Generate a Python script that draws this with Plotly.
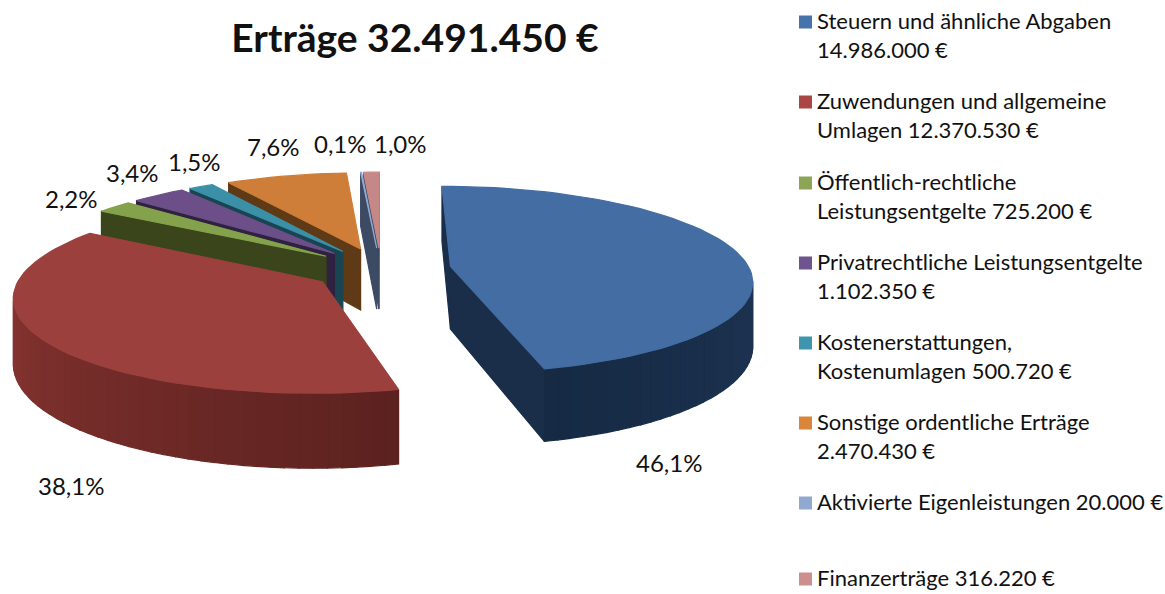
import math
import plotly.graph_objects as go

TITLE = "Erträge 32.491.450 €"
categories = [
    "Steuern und ähnliche Abgaben<br>14.986.000 €",
    "Zuwendungen und allgemeine<br>Umlagen 12.370.530 €",
    "Öffentlich-rechtliche<br>Leistungsentgelte 725.200 €",
    "Privatrechtliche Leistungsentgelte<br>1.102.350 €",
    "Kostenerstattungen,<br>Kostenumlagen 500.720 €",
    "Sonstige ordentliche Erträge<br>2.470.430 €",
    "Aktivierte Eigenleistungen 20.000 €",
    "Finanzerträge 316.220 €",
]
amounts = [14986000, 12370530, 725200, 1102350, 500720, 2470430, 20000, 316220]

legend_colors = ["#4673AA", "#AA4644", "#8CA555", "#6F5590", "#3F95AD", "#D9853B", "#92A9CF", "#CC8F8D"]
top_colors = ["#436DA3", "#9C403E", "#84A24B", "#6C4F88", "#3B90A8", "#CE7E38", "#8FA9D0", "#C58886"]
face_colors = ["#1A2E4A", "#5F2421", "#3A451C", "#2F2140", "#194553", "#5F3A16", "#3C4A63", "#3C4A63"]
wall_start = [(38, 66, 102), (92, 34, 31), (58, 69, 28), (47, 33, 64), (25, 69, 83), (95, 58, 22), (60, 74, 99), (60, 74, 99)]
wall_end = [(22, 42, 68), (152, 60, 56), (58, 69, 28), (47, 33, 64), (25, 69, 83), (95, 58, 22), (60, 74, 99), (60, 74, 99)]
label_x = [669, 71, 71, 132, 194, 273, 340, 400]
label_y = [462, 485, 198, 172, 161, 146, 143, 143]
legend_y = [22, 102, 183, 263, 343, 423, 503, 579]

# Camera / pie geometry, in page pixels
CX, CY = 381, 269
RX, RY = 299, 92
PULL = 0.235
PERSP = 0.14
DEPTH = 63
LEGEND_SWATCH_X, LEGEND_TEXT_X = 805.5, 817
draw_order = [7, 6, 5, 4, 3, 2, 0, 1]


def project(gx, gy, z=0.0):
    s = 1 / (1 + PERSP * gy)
    return CX + RX * gx * s, CY - RY * gy * s + z * DEPTH * s


def polygon(points, color):
    xs = [p[0] for p in points] + [points[0][0]]
    ys = [p[1] for p in points] + [points[0][1]]
    return go.Scatter(x=xs, y=ys, mode="lines", fill="toself", fillcolor=color,
                      line=dict(color=color, width=1.2), hoverinfo="skip", showlegend=False)


def is_front(a, b, m):
    """True when the wedge's middle point m lies above the edge a-b on the page."""
    dx, dy = b[0] - a[0], b[1] - a[1]
    if abs(dx) < 1e-6:
        dx = 1e-6
    return m[1] < a[1] + dy * (m[0] - a[0]) / dx


fig = go.Figure()

total = sum(amounts)
bounds = [0.0]
for v in amounts:
    bounds.append(bounds[-1] + v / total * 2 * math.pi)

for i in draw_order:
    t0, t1 = bounds[i], bounds[i + 1]
    mid = (t0 + t1) / 2
    ox, oy = PULL * math.sin(mid), PULL * math.cos(mid)
    n = max(3, int((t1 - t0) / 0.04))
    ang = [t0 + (t1 - t0) * k / n for k in range(n + 1)]
    rim = [(ox + math.sin(a), oy + math.cos(a)) for a in ang]
    apex2 = project(ox, oy)
    rim2 = [project(*g) for g in rim]
    midpt = project(ox + 0.6 * math.sin(mid), oy + 0.6 * math.cos(mid))

    # radial faces
    for g in (rim[0], rim[-1]):
        edge = project(*g)
        if is_front(apex2, edge, midpt):
            fig.add_trace(polygon([apex2, edge, project(g[0], g[1], 1), project(ox, oy, 1)], face_colors[i]))

    # outer wall, in shaded bands
    for k in range(n):
        a, b = rim[k], rim[k + 1]
        pa, pb = rim2[k], rim2[k + 1]
        if is_front(pa, pb, apex2):
            f = k / max(1, n - 1)
            c = [round(s + (e - s) * f) for s, e in zip(wall_start[i], wall_end[i])]
            fig.add_trace(polygon([pa, pb, project(b[0], b[1], 1), project(a[0], a[1], 1)],
                                  "rgb(%d,%d,%d)" % tuple(c)))

    # top
    fig.add_trace(polygon([apex2] + rim2, top_colors[i]))

annotations = []
for v, x, y in zip(amounts, label_x, label_y):
    txt = f"{v / total * 100:.1f}%".replace(".", ",")
    annotations.append(dict(x=x, y=y, xref="x", yref="y", text=txt, showarrow=False,
                            font=dict(family="Lato", size=24, color="#111111")))

# Legend beside the first text line of each entry
fig.add_trace(go.Scatter(x=[LEGEND_SWATCH_X] * len(categories), y=legend_y, mode="markers",
                         marker=dict(symbol="square", size=13, color=legend_colors),
                         hoverinfo="skip", showlegend=False))
for name, y in zip(categories, legend_y):
    annotations.append(dict(x=LEGEND_TEXT_X, y=y - 15, xref="x", yref="y", text=name, showarrow=False,
                            xanchor="left", yanchor="top", align="left", borderpad=0, borderwidth=0,
                            font=dict(family="Lato", size=22, color="#111111")))

fig.update_layout(
    width=1165, height=594, autosize=False,
    margin=dict(l=0, r=0, t=0, b=0, autoexpand=False),
    paper_bgcolor="white", plot_bgcolor="white",
    font=dict(family="Lato", color="#111111"),
    title=dict(text=f"<b>{TITLE}</b>", x=415 / 1165, y=1 - 38 / 594, xanchor="center", yanchor="middle",
               font=dict(family="Lato", size=39, color="#111111")),
    xaxis=dict(range=[0, 1165], visible=False, fixedrange=True),
    yaxis=dict(range=[594, 0], visible=False, fixedrange=True),
    annotations=annotations,
    showlegend=False,
)
fig.write_html("out.html", config={"displayModeBar": False},
               post_script="document.body.style.margin='0';")
